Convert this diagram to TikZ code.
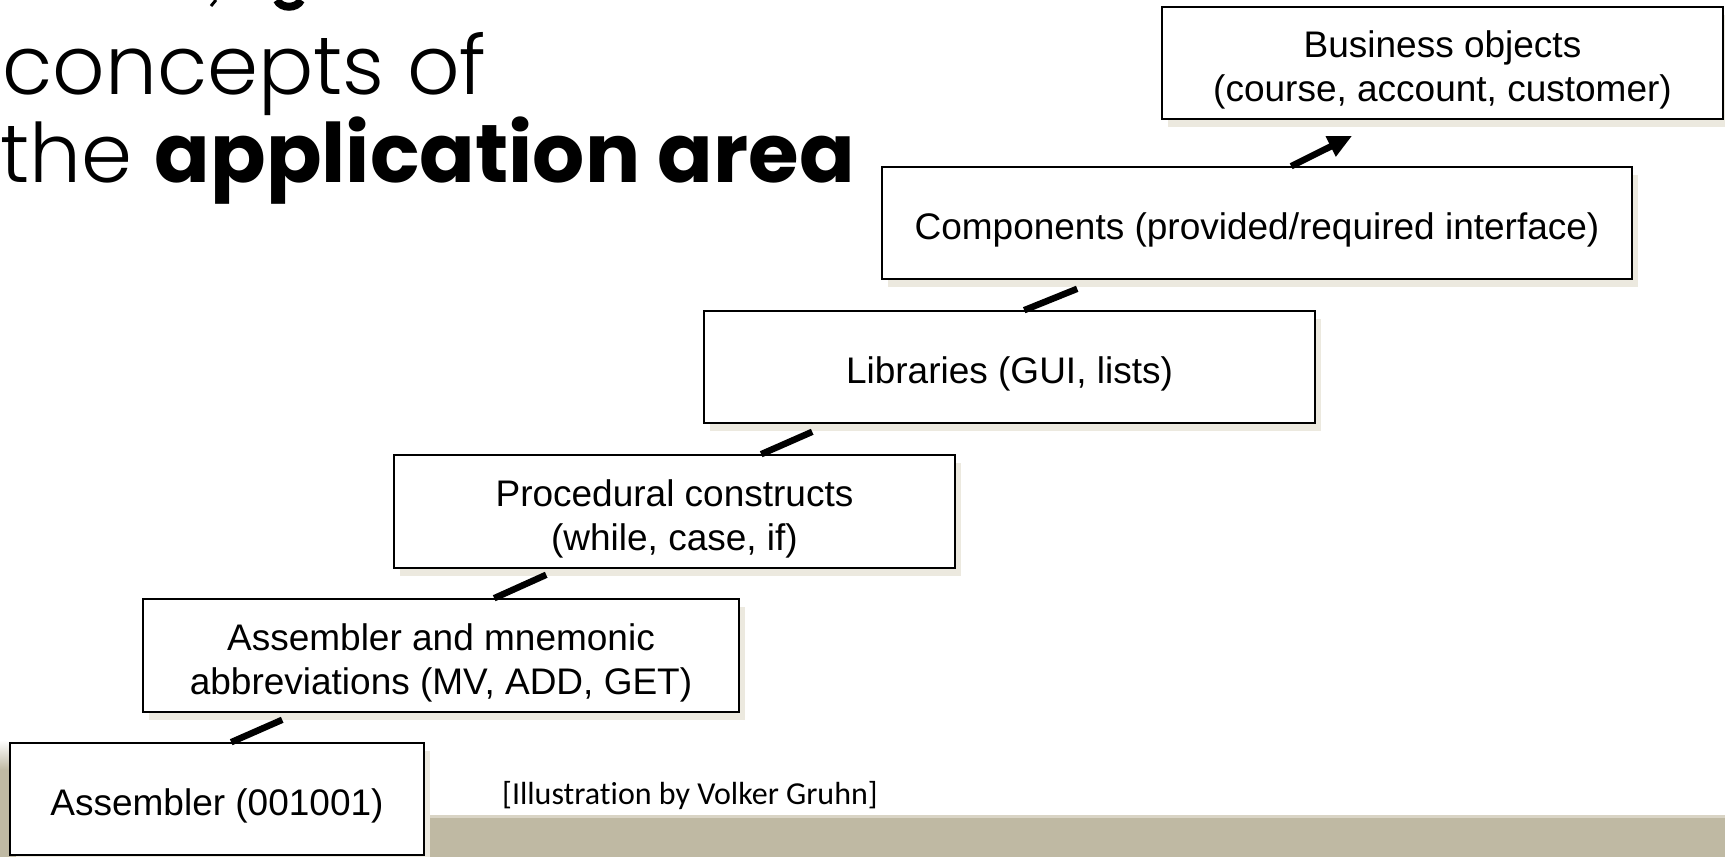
\documentclass[tikz,border=0pt]{standalone}
\usepackage{fontspec}
\setmainfont{Liberation Sans}
\IfFontExistsTF{Poppins Light}
  {\newfontfamily\titlefont[BoldFont={Poppins Bold}]{Poppins Light}}
  {\newfontfamily\titlefont{Poppins}}
\newfontfamily\capfont[Ligatures=NoCommon]{Carlito}
\usetikzlibrary{arrows.meta,shadows,calc}
\definecolor{bandbeige}{HTML}{BFB9A3}
\definecolor{bandedge}{HTML}{D9D4C5}
\definecolor{shadowbeige}{HTML}{ECE9DF}
\begin{document}
\begin{tikzpicture}[x=1pt,y=-1pt,
  level/.style={draw=black, line width=1.6pt, fill=white, rectangle,
    inner sep=0pt,
    drop shadow={shadow xshift=6pt, shadow yshift=-8pt, fill=shadowbeige, opacity=1}},
  leveltext/.style={inner sep=0pt, align=center, font=\fontsize{37}{44}\selectfont},
  link/.style={line width=6.5pt, black},
  titletext/.style={anchor=base west, inner sep=0pt, font=\titlefont\fontsize{82}{82}\selectfont},
]
\useasboundingbox (0,0) rectangle (1725,857);

% footer band of the slide
\fill[bandbeige] (0,817) rectangle (1725,857);
\fill[bandedge] (0,815) rectangle (1725,818);
\shade[top color=white, bottom color=bandbeige] (0,740) rectangle (12,770);
\fill[bandbeige] (0,770) rectangle (12,857);

% descenders of the cut-off heading line above
\draw[line width=3pt] (216,0) -- (211,6);
\draw[line width=8pt] (277,0) .. controls (281,9) and (297,9) .. (301,0);

% heading
\node[titletext] (t1) at (2,94) {concepts of};
\node[titletext] (t2) at (0,182) {the \textbf{application area}};

% abstraction levels
\node[level, minimum width=414pt, minimum height=112pt] (asm)  at (217,799)     {};
\node[level, minimum width=596pt, minimum height=113pt] (mne)  at (441,655.5)   {};
\node[level, minimum width=561pt, minimum height=113pt] (proc) at (674.5,511.5) {};
\node[level, minimum width=611pt, minimum height=112pt] (lib)  at (1009.5,367)  {};
\node[level, minimum width=750pt, minimum height=112pt] (comp) at (1257,223)    {};
\node[level, minimum width=561pt, minimum height=112pt] (bus)  at (1442.5,63)   {};

\node[leveltext] (asmT)  at ([yshift=-7pt]asm.center)  {Assembler (001001)};
\node[leveltext] (mneT)  at ([yshift=-7pt]mne.center)  {Assembler and mnemonic\\abbreviations (MV, ADD, GET)};
\node[leveltext] (procT) at ([yshift=-7pt]proc.center) {Procedural constructs\\(while, case, if)};
\node[leveltext] (libT)  at ([yshift=-7pt]lib.center)  {Libraries (GUI, lists)};
\node[leveltext] (compT) at ([yshift=-7pt]comp.center) {Components (provided/required interface)};
\node[leveltext] (busT)  at ([yshift=-7pt]bus.center)  {Business objects\\(course, account, customer)};

% steps between levels
\draw[link] ([xshift=222pt]asm.north west) -- ([xshift=140pt, yshift=-7pt]mne.south west);
\draw[link] ([xshift=352pt]mne.north west) -- ([xshift=153pt, yshift=-6pt]proc.south west);
\draw[link] ([xshift=368pt]proc.north west) -- ([xshift=109pt, yshift=-8pt]lib.south west);
\draw[link] ([xshift=321pt]lib.north west) -- ([xshift=196pt, yshift=-9pt]comp.south west);
\draw[link, -{Triangle[length=24pt, width=21pt]}] ([xshift=410pt]comp.north west) -- ([xshift=191pt, yshift=-16pt]bus.south west);

% source note
\node[anchor=base west, inner sep=0pt, font=\capfont\fontsize{32}{34}\selectfont] (note) at (502,804) {[Illustration by Volker Gruhn]};
\end{tikzpicture}
\end{document}
